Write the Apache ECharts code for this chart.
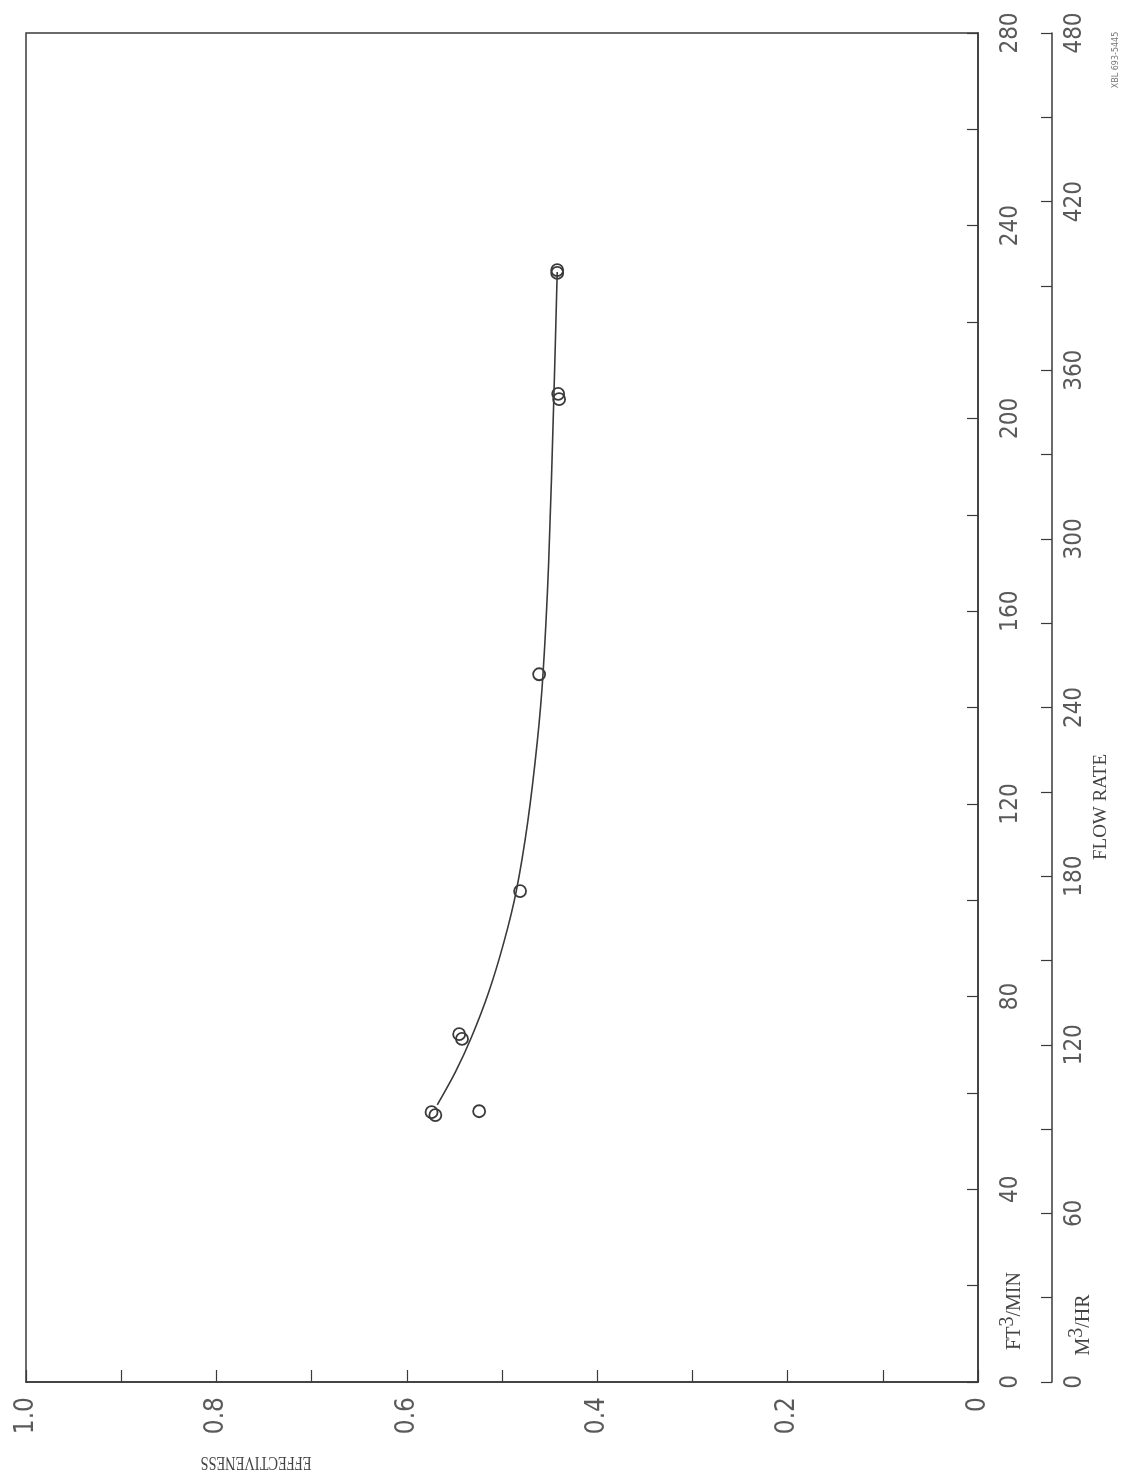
<!DOCTYPE html>
<html><head><meta charset="utf-8">
<script src="https://cdn.jsdelivr.net/npm/echarts@6/dist/echarts.min.js"></script>
<style>html,body{margin:0;padding:0;background:#fff}#c{width:1123px;height:1482px}</style>
</head><body><div id="c"></div>
<script>
// Measured test points (effectiveness vs flow rate in ft3/min)
const pointFlow = [56.0, 55.4, 56.2, 72.2, 71.2, 101.9, 146.9, 205.1, 204.0, 230.8, 230.2];
const pointEff  = [0.574, 0.570, 0.524, 0.545, 0.542, 0.481, 0.461, 0.441, 0.440, 0.442, 0.442];
// Hand-faired curve through the data
const curveFlow = [57.5, 64.3, 71.6, 80.9, 91.3, 101.9, 116.2, 132.8, 146.7, 170.0, 204.6, 230.4];
const curveEff  = [0.568, 0.549, 0.532, 0.514, 0.498, 0.485, 0.473, 0.463, 0.457, 0.451, 0.4455, 0.442];
// Tick labels
const effLabels = [0, 0.2, 0.4, 0.6, 0.8, 1.0];
const ftLabels  = [0, 40, 80, 120, 160, 200, 240, 280];
const m3Labels  = [0, 60, 120, 180, 240, 300, 360, 420, 480];

const ink = '#3a3a3a';
const labelFont = {fontFamily: 'DejaVu Sans Condensed, DejaVu Sans', fontSize: 24, color: '#5a5a5a'};
const serif = 'Liberation Serif, DejaVu Serif';

function pick(list, v, fmt) {
  for (const l of list) if (Math.abs(l - v) < 1e-6) return fmt ? fmt(l) : String(l);
  return '';
}
function supText(x, y, base, sup, rest) {
  return {type: 'text', x: x, y: y, rotation: Math.PI / 2,
    style: {
      text: '{a|' + base + '}{s|' + sup + '}{a|' + rest + '}',
      textAlign: 'center', textVerticalAlign: 'middle',
      rich: {
        a: {fontFamily: serif, fontSize: 20, lineHeight: 27, verticalAlign: 'bottom', fill: '#444'},
        s: {fontFamily: serif, fontSize: 20, lineHeight: 27, verticalAlign: 'top', fill: '#444'}
      }
    }};
}

const chart = echarts.init(document.getElementById('c'), null, {renderer: 'canvas'});
chart.setOption({
  animation: false,
  backgroundColor: '#fff',
  grid: {left: 26, right: 145, top: 33, bottom: 100, show: true, borderColor: ink, borderWidth: 1.5},
  xAxis: {
    type: 'value', min: 0, max: 1, interval: 0.1, inverse: true, position: 'bottom',
    axisLine: {show: true, lineStyle: {color: ink, width: 1.5}},
    axisTick: {show: true, inside: true, length: 12, lineStyle: {color: ink, width: 1.2}},
    splitLine: {show: false},
    axisLabel: Object.assign({rotate: 90, margin: 15,
      formatter: v => pick(effLabels, v, l => l === 0 ? '0' : l.toFixed(1))}, labelFont, {fontSize: 26})
  },
  yAxis: [{
    type: 'value', min: 0, max: 280, interval: 20, position: 'right',
    axisLine: {show: true, lineStyle: {color: ink, width: 1.5}},
    axisTick: {show: true, inside: true, length: 11, lineStyle: {color: ink, width: 1.2}},
    splitLine: {show: false},
    axisLabel: Object.assign({rotate: 90, margin: 21, formatter: v => pick(ftLabels, v)}, labelFont)
  }, {
    type: 'value', min: 0, max: 480, interval: 30, position: 'right', offset: 74,
    axisLine: {show: true, lineStyle: {color: ink, width: 1.5}},
    axisTick: {show: true, inside: true, length: 11, lineStyle: {color: ink, width: 1.2}},
    splitLine: {show: false},
    axisLabel: Object.assign({rotate: 90, margin: 11, formatter: v => pick(m3Labels, v)}, labelFont)
  }],
  series: [{
    type: 'line', name: 'curve', yAxisIndex: 0, smooth: 0.3, showSymbol: false,
    data: curveEff.map((e, i) => [e, curveFlow[i]]),
    lineStyle: {color: ink, width: 1.6}, z: 2
  }, {
    type: 'scatter', name: 'tests', yAxisIndex: 0, symbol: 'circle', symbolSize: 12,
    data: pointEff.map((e, i) => [e, pointFlow[i]]),
    itemStyle: {color: 'rgba(255,255,255,0)', borderColor: ink, borderWidth: 1.8, opacity: 1}, z: 3
  }],
  graphic: [
    supText(1011, 1311, 'FT', '3', '/MIN'),
    supText(1080, 1325, 'M', '3', '/HR'),
    {type: 'text', x: 1101, y: 807, rotation: Math.PI / 2,
     style: {text: 'FLOW RATE', textAlign: 'center', textVerticalAlign: 'middle',
             fontFamily: serif, fontSize: 19, fill: '#444'}},
    {type: 'text', x: 256, y: 1462, rotation: Math.PI, scaleX: 0.8,
     style: {text: 'EFFECTIVENESS', textAlign: 'center', textVerticalAlign: 'middle',
             fontFamily: serif, fontSize: 18, fill: '#444'}},
    {type: 'text', x: 1116, y: 60, rotation: Math.PI / 2,
     style: {text: 'XBL 693-5445', textAlign: 'center', textVerticalAlign: 'middle',
             fontFamily: 'DejaVu Sans', fontSize: 8, fill: '#777'}}
  ]
});
</script></body></html>
